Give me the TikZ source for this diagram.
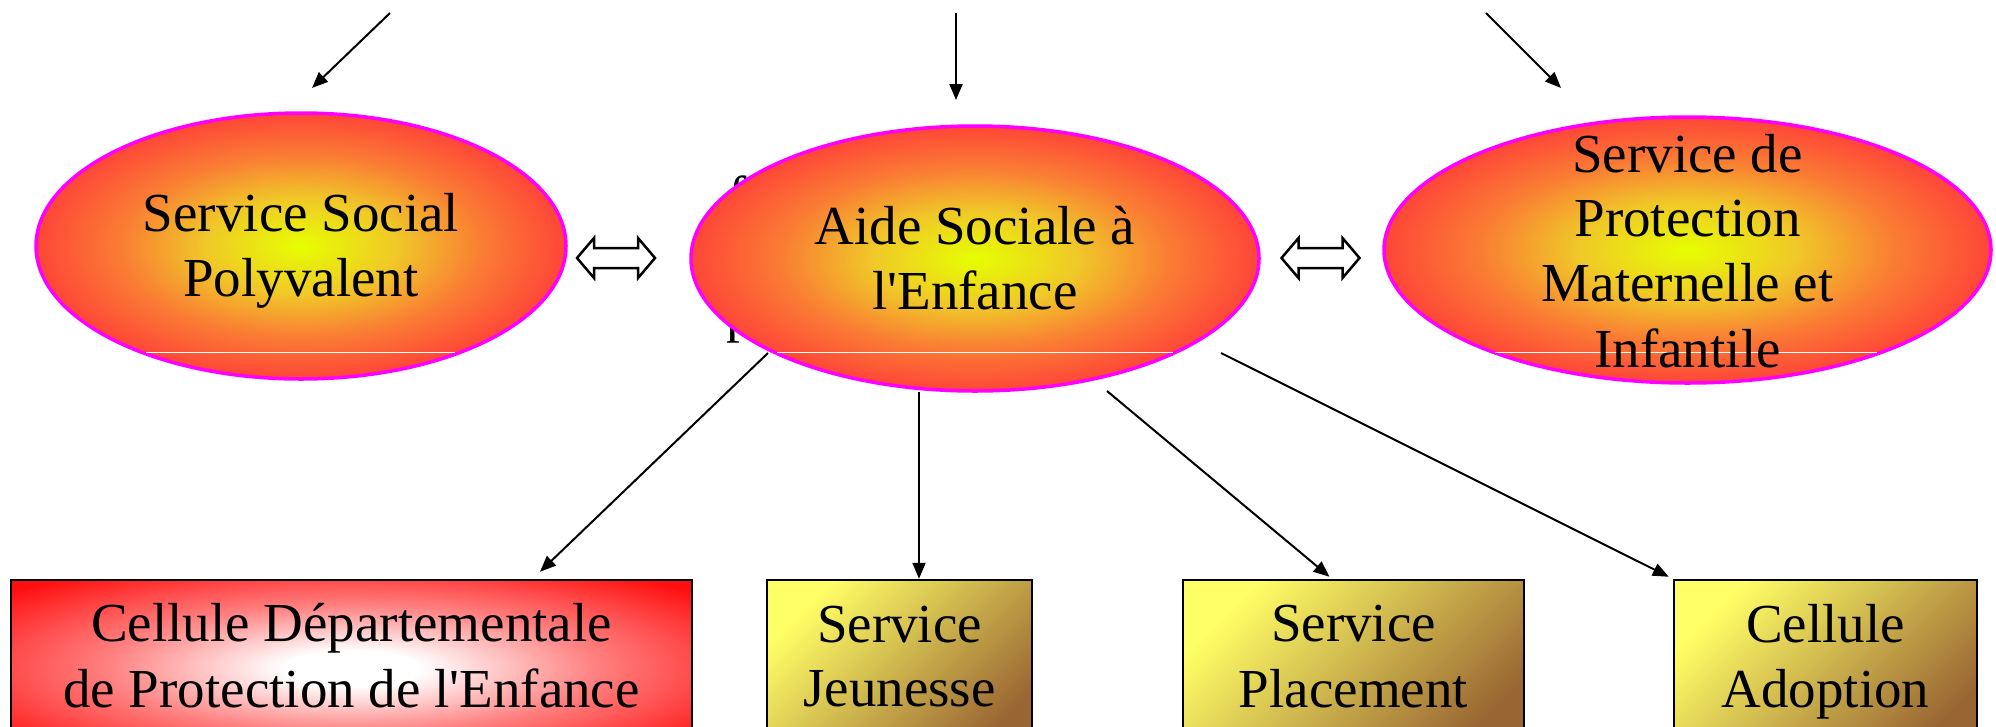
\documentclass[tikz,border=0pt]{standalone}
\usepackage{fontspec}
\setmainfont{Liberation Serif}
\usetikzlibrary{arrows.meta,shapes.geometric}

% colours of the oval fills
\definecolor{ovalcore}{RGB}{230,255,0}
\definecolor{ovalyel}{RGB}{240,200,40}
\definecolor{ovalorg}{RGB}{250,125,52}
\definecolor{ovalred}{RGB}{255,56,56}
\definecolor{ovalrim}{RGB}{255,0,255}
% colours of the boxes
\definecolor{alertmid}{RGB}{255,128,128}
\definecolor{alertred}{RGB}{255,16,16}
\definecolor{boxyel}{RGB}{255,255,102}
\definecolor{boxbrown}{RGB}{153,102,51}

% radial fills; a shape's edge midpoints sit near 35bp
\pgfdeclareradialshading{ovalfill}{\pgfpoint{0bp}{0bp}}{color(0bp)=(ovalcore); color(9bp)=(ovalyel); color(17bp)=(ovalorg); color(27bp)=(ovalred); color(50bp)=(ovalred)}
\pgfdeclareradialshading{alertfill}{\pgfpoint{0bp}{0bp}}{color(0bp)=(white); color(5bp)=(white); color(18bp)=(alertmid); color(33bp)=(alertred); color(50bp)=(alertred)}

% fixed line strut: height 38pt, depth 26pt, baselines 64pt apart
\newcommand\lnstrut{\rule[-26pt]{0pt}{64pt}}
\newcommand\apos{\textquotesingle}

\begin{document}
\begin{tikzpicture}[x=1pt,y=-1pt,
  bigfont/.style={font=\fontsize{55}{64}\selectfont},
  oval/.style={ellipse, draw=ovalrim, line width=3.5pt, shade, shading=ovalfill, inner sep=0pt},
  ovaltext/.style={bigfont, align=center, inner sep=0pt},
  alertbox/.style={rectangle, draw=black, line width=2.5pt, shade, shading=alertfill,
    bigfont, align=center, inner sep=0pt, minimum height=177pt},
  unitbox/.style={rectangle, draw=black, line width=2.5pt,
    top color=boxyel, bottom color=boxbrown, shading angle=45,
    bigfont, align=center, inner sep=0pt, minimum height=177pt},
  conn/.style={line width=2pt, -{Triangle[length=16pt,width=13pt]}},
  seam/.style={draw=white, line width=1pt},
  frag/.style={bigfont, inner sep=0pt},
  dblarrow/.pic={\draw[line width=2.5pt, fill=white, line join=miter]
    (-39,0) -- (-22,-20) -- (-22,-10) -- (22,-10) -- (22,-20) -- (39,0)
    -- (22,20) -- (22,10) -- (-22,10) -- (-22,20) -- cycle;}
]
\useasboundingbox (0,0) rectangle (1996,726);
\clip (0,0) rectangle (1996,726);

% text lying behind the central oval
\node[frag, anchor=base west] (fragf) at (728,214) {f};
\node[frag, anchor=base west] (fragp) at (726,331) {p};

% the three services
\node[oval, minimum width=530pt, minimum height=266pt] (e1) at (301,246) {};
\node[oval, minimum width=568pt, minimum height=265pt] (e2) at (975,258.5) {};
\node[oval, minimum width=607pt, minimum height=266pt] (e3) at (1687.5,250) {};

% thin seams across the ovals
\coordinate (s1a) at (146,352); \coordinate (s1b) at (455,352);
\coordinate (s2a) at (777,352); \coordinate (s2b) at (1173,352);
\coordinate (s3a) at (1495,352); \coordinate (s3b) at (1877,352);
\draw[seam] (s1a) -- (s1b);
\draw[seam] (s2a) -- (s2b);
\draw[seam] (s3a) -- (s3b);

\node[ovaltext] (t1) at (301,258) {\lnstrut Service Social\\\lnstrut Polyvalent};
\node[ovaltext] (t2) at (975,271) {\lnstrut Aide Sociale à\\\lnstrut l\apos Enfance};
\node[ovaltext] (t3) at (1687.5,263.5) {\lnstrut Service de\\\lnstrut Protection\\\lnstrut Maternelle et\\\lnstrut Infantile};

% two-way links between the services
\coordinate (dl) at (616,258);
\coordinate (dr) at (1320.5,258);
\pic at (dl) {dblarrow};
\pic at (dr) {dblarrow};

% incoming arrows from above
\coordinate (in1) at (390,13);  \coordinate (to1) at (312,88);
\coordinate (in2) at (956,13);  \coordinate (to2) at (956,100);
\coordinate (in3) at (1486,13); \coordinate (to3) at (1561,88);
\draw[conn] (in1) -- (to1);
\draw[conn] (in2) -- (to2);
\draw[conn] (in3) -- (to3);

% units under Aide Sociale a l'Enfance
\node[alertbox, minimum width=681pt] (cdpe) at (351.5,668.5) {\lnstrut Cellule Départementale\\\lnstrut de Protection de l\apos Enfance};
\node[unitbox, minimum width=265pt] (sj) at (899.5,668.5) {\lnstrut Service\\\lnstrut Jeunesse};
\node[unitbox, minimum width=341pt] (sp) at (1353.5,668.5) {\lnstrut Service\\\lnstrut Placement};
\node[unitbox, minimum width=303pt] (ca) at (1825.5,668.5) {\lnstrut Cellule\\\lnstrut Adoption};

% arrows from the central oval to the units
\coordinate (o1) at (768,353);
\coordinate (o2) at (919,392);
\coordinate (o3) at (1107,391);
\coordinate (o4) at (1221,353);
\draw[conn] (o1) -- ([xshift=188.5pt,yshift=7pt]cdpe.north);
\draw[conn] (o2) -- ([xshift=19.5pt]sj.north);
\draw[conn] (o3) -- ([xshift=-24pt,yshift=2pt]sp.north);
\draw[conn] (o4) -- ([xshift=-4pt,yshift=2pt]ca.north west);
\end{tikzpicture}
\end{document}
